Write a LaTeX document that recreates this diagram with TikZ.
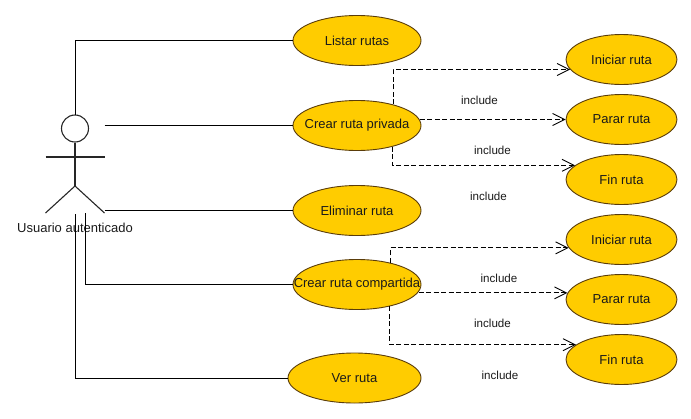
\documentclass[tikz,border=0pt]{standalone}
\usepackage{fontspec}
\setmainfont{Liberation Sans}
\usetikzlibrary{shapes.geometric,arrows.meta}
\definecolor{ucfill}{HTML}{FFCC00}
\definecolor{ucline}{HTML}{5A3C0A}
\definecolor{lbl}{HTML}{1A1A1A}
\newcommand{\uctext}[1]{\makebox[0pt][c]{#1}}
\tikzset{
  usecase/.style={ellipse,draw=ucline,fill=ucfill,line width=0.9pt,inner sep=0pt,minimum width=128pt,minimum height=50pt,font=\fontsize{13}{14}\selectfont,text=lbl},
  subcase/.style={usecase,minimum width=111pt},
  assoc/.style={draw=black,line width=0.9pt},
  limb/.style={draw=black!85,line width=1.1pt},
  dep/.style={draw=black,line width=0.8pt,dash pattern=on 5pt off 2.5pt,-{Straight Barb[length=12pt,width=12pt,line width=0.9pt]}},
  deplabel/.style={font=\fontsize{11.6}{13}\selectfont,text=lbl,inner sep=0pt}
}
\begin{document}
\begin{tikzpicture}[x=1pt,y=-1pt]
\useasboundingbox (0,0) rectangle (691,418);
% actor
\node[circle,draw=black!85,line width=1.1pt,minimum size=27pt,inner sep=0pt] (head) at (75,128.5) {};
\coordinate (hip) at (75,186);
\coordinate (armL) at (45.5,157);
\coordinate (armR) at (104.5,157);
\coordinate (footL) at (45.5,213);
\coordinate (footR) at (104.5,213);
\draw[limb] (head.south) -- (hip);
\draw[limb] (armL) -- (armR);
\draw[limb] (footL) -- (hip) -- (footR);
\node[font=\fontsize{13}{14}\selectfont,text=lbl,inner sep=0pt] (actor) at (75,228) {Usuario autenticado};
% connector starts
\coordinate (aTop) at (75.5,115);
\coordinate (aMid) at (104.5,125.5);
\coordinate (aLow) at (104.5,210.5);
\coordinate (aShare) at (85.5,213);
\coordinate (aVer) at (75.5,214);
% use cases
\node[usecase] (c1) at (357,40.5) {\uctext{Listar rutas}};
\node[usecase] (c2) at (357,125.5) {\uctext{Crear ruta privada}};
\node[usecase] (c3) at (357,210.5) {\uctext{Eliminar ruta}};
\node[usecase] (c4) at (357,284.5) {\uctext{Crear ruta compartida}};
\node[usecase,minimum width=133pt] (c5) at (354.5,378) {\uctext{Ver ruta}};
\node[subcase] (i1) at (621.5,59.5) {\uctext{Iniciar ruta}};
\node[subcase] (p1) at (621.5,119.5) {\uctext{Parar ruta}};
\node[subcase] (f1) at (621.5,179.5) {\uctext{Fin ruta}};
\node[subcase] (i2) at (621.5,239.5) {\uctext{Iniciar ruta}};
\node[subcase] (p2) at (621.5,299.5) {\uctext{Parar ruta}};
\node[subcase] (f2) at (621.5,359.5) {\uctext{Fin ruta}};
% associations
\draw[assoc] (aTop) |- (c1.west);
\draw[assoc] (aMid) -- (c2.west);
\draw[assoc] (aLow) -- (c3.west);
\draw[assoc] (aShare) |- (c4.west);
\draw[assoc] (aVer) |- (c5.west);
% includes
\draw[dep] (c2.30) |- (i1.191.8);
\draw[dep] (c2.5.5 |- p1.west) -- (p1.west);
\draw[dep] (c2.-31.3) |- (f1.163.9);
\draw[dep] (c4.33.5) |- (i2.189.2);
\draw[dep] (c4.-7.5 |- p2.173.1) -- (p2.173.1);
\draw[dep] (c4.-34.7) |- (f2.162.2);
% labels
\node[deplabel] (l1) at (479.5,100) {include};
\node[deplabel] (l2) at (492.5,150) {include};
\node[deplabel] (l3) at (488.5,196) {include};
\node[deplabel] (l4) at (499,278) {include};
\node[deplabel] (l5) at (492.5,323) {include};
\node[deplabel] (l6) at (500,375) {include};
\end{tikzpicture}
\end{document}
